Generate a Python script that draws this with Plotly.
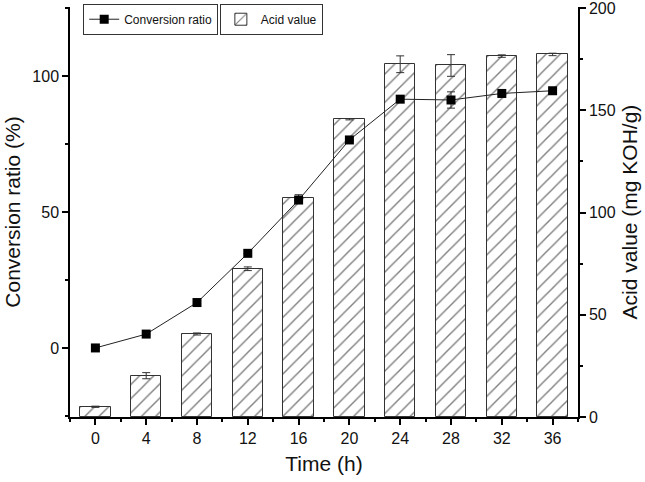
import plotly.graph_objects as go

time_h = [0, 4, 8, 12, 16, 20, 24, 28, 32, 36]
conversion = [0.0, 5.1, 16.7, 34.8, 54.4, 76.5, 91.5, 91.2, 93.6, 94.6]
conversion_err = [0, 0, 0, 0, 0, 0, 1.2, 3.0, 0, 0]
acid_value = [5.0, 20.2, 40.6, 72.5, 107.2, 145.6, 172.5, 171.9, 176.5, 177.3]
acid_err = [0.3, 1.5, 0.5, 0.9, 1.5, 0.3, 4.1, 5.3, 0.6, 0.6]

dark = "#333333"
font_family = "Liberation Sans, Arial, sans-serif"
title_font = dict(size=21, family=font_family, color="#111")

fig = go.Figure()

fig.add_trace(go.Bar(
    x=time_h, y=acid_value, yaxis="y", name="Acid value",
    width=2.4,
    marker=dict(color="white", line=dict(color=dark, width=1),
                pattern=dict(shape="/", fgcolor="#000000", bgcolor="white", size=10, solidity=0.14)),
    error_y=dict(type="data", array=acid_err, color=dark, thickness=1, width=4),
    legend="legend2", showlegend=True,
))

fig.add_trace(go.Scatter(
    x=time_h, y=conversion, yaxis="y2", name="Conversion ratio",
    mode="lines+markers",
    line=dict(color="#222222", width=1),
    marker=dict(symbol="square", size=9, color="black"),
    error_y=dict(type="data", array=conversion_err, color=dark, thickness=1, width=4),
    legend="legend", showlegend=True,
))

axis_common = dict(
    showline=True, linecolor="black", linewidth=1.5, ticks="outside",
    tickcolor="black", ticklen=6, tickwidth=1.5, showgrid=False, zeroline=False,
    tickfont=dict(size=16, color="#111", family=font_family), automargin=False,
    ticklabeloverflow="allow",
)

legend_common = dict(
    xanchor="left", yanchor="top",
    bordercolor="#333", borderwidth=1, bgcolor="white",
    font=dict(size=12, family=font_family, color="#111"),
    itemwidth=30, tracegroupgap=0,
)

fig.update_layout(
    width=645, height=482,
    margin=dict(l=70, r=67, t=7, b=65, autoexpand=False),
    paper_bgcolor="white", plot_bgcolor="white",
    font=dict(family=font_family, color="#111"),
    showlegend=True,
    xaxis=dict(
        range=[-2, 38], tickmode="array", tickvals=time_h,
        ticktext=[str(t) for t in time_h],
        minor=dict(ticks="outside", ticklen=3, tickcolor="black", dtick=2, tick0=0),
        title=dict(text="Time (h)", font=title_font, standoff=10),
        **axis_common,
    ),
    yaxis=dict(
        side="right", range=[0, 200.5], tickmode="array",
        tickvals=[0, 50, 100, 150, 200], ticktext=["0", "50", "100", "150", "200"],
        minor=dict(ticks="outside", ticklen=3, tickcolor="black", dtick=25, tick0=0),
        title=dict(text="Acid value (mg KOH/g)", font=title_font, standoff=8),
        **axis_common,
    ),
    yaxis2=dict(
        side="left", overlaying="y", range=[-25.4, 125.4], tickvals=[0, 50, 100],
        minor=dict(ticks="outside", ticklen=3, tickcolor="black", dtick=25, tick0=0),
        title=dict(text="Conversion ratio (%)", font=title_font, standoff=6),
        **axis_common,
    ),
    legend=dict(x=0.026, y=1.008, **legend_common),
    legend2=dict(x=0.295, y=1.008, **legend_common),
    bargap=0,
)

fig.write_html("out.html", config={"displayModeBar": False},
               post_script="document.body.style.margin='0';")
